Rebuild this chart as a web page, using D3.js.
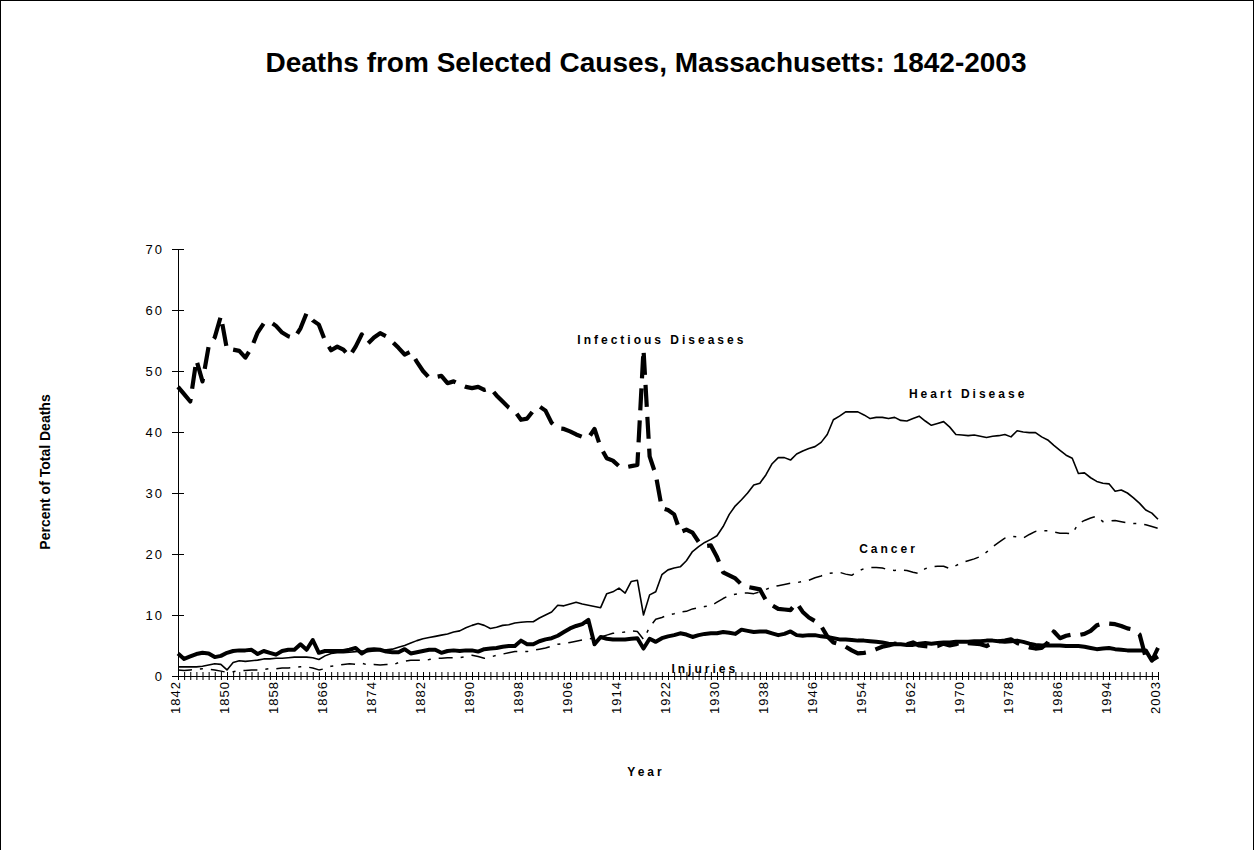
<!DOCTYPE html>
<html>
<head>
<meta charset="utf-8">
<script src="https://cdn.jsdelivr.net/npm/d3@7"></script>
<style>
  body { margin: 0; background: #fff; }
  text { font-family: "Liberation Sans", Arial, sans-serif; fill: #000; }
</style>
</head>
<body>
<div id="chart"></div>
<script>
// ==============================
// Data (percent of total deaths)
// ==============================
var years = [
  1842, 1843, 1844, 1845, 1846, 1847, 1848, 1849, 1850, 1851,
  1852, 1853, 1854, 1855, 1856, 1857, 1858, 1859, 1860, 1861,
  1862, 1863, 1864, 1865, 1866, 1867, 1868, 1869, 1870, 1871,
  1872, 1873, 1874, 1875, 1876, 1877, 1878, 1879, 1880, 1881,
  1882, 1883, 1884, 1885, 1886, 1887, 1888, 1889, 1890, 1891,
  1892, 1893, 1894, 1895, 1896, 1897, 1898, 1899, 1900, 1901,
  1902, 1903, 1904, 1905, 1906, 1907, 1908, 1909, 1910, 1911,
  1912, 1913, 1914, 1915, 1916, 1917, 1918, 1919, 1920, 1921,
  1922, 1923, 1924, 1925, 1926, 1927, 1928, 1929, 1930, 1931,
  1932, 1933, 1934, 1935, 1936, 1937, 1938, 1939, 1940, 1941,
  1942, 1943, 1944, 1945, 1946, 1947, 1948, 1949, 1950, 1951,
  1952, 1953, 1954, 1955, 1956, 1957, 1958, 1959, 1960, 1961,
  1962, 1963, 1964, 1965, 1966, 1967, 1968, 1969, 1970, 1971,
  1972, 1973, 1974, 1975, 1976, 1977, 1978, 1979, 1980, 1981,
  1982, 1983, 1984, 1985, 1986, 1987, 1988, 1989, 1990, 1991,
  1992, 1993, 1994, 1995, 1996, 1997, 1998, 1999,
  2001, 2002, 2003
];

var infectious = [
  47.4, 46.2, 45.0, 51.8, 48.3, 54.0, 55.5, 59.0, 53.5, 53.5,
  53.3, 52.2, 53.8, 56.3, 57.8, 58.1, 57.4, 56.3, 55.7, 55.4,
  57.0, 59.5, 58.3, 57.6, 55.0, 53.4, 54.0, 53.5, 52.4, 54.0,
  56.0, 54.5, 55.5, 56.2, 55.7, 54.8, 53.8, 52.7, 53.2, 51.5,
  50.0, 48.9, 49.0, 49.2, 48.0, 48.3, 47.8, 47.4, 47.2, 47.4,
  46.9, 47.2, 46.0, 45.0, 44.0, 43.4, 42.0, 42.2, 43.5, 44.2,
  43.5, 41.5, 40.6, 40.5, 40.1, 39.6, 39.2, 39.0, 40.5, 37.5,
  35.7, 35.3, 34.4, 34.2, 34.4, 34.6, 53.5, 36.0, 33.0, 27.5,
  27.2, 26.5, 23.6, 24.0, 23.5, 22.0, 21.3, 21.4, 19.5, 17.0,
  16.5, 16.0, 15.0, 14.6, 14.4, 14.2, 12.4, 11.6, 11.0, 10.9,
  10.8, 12.0, 10.5, 9.6, 9.0, 8.2, 6.5, 5.5, 5.2, 4.8,
  4.2, 3.7, 3.8, 4.0, 4.4, 4.8, 5.0, 5.3, 5.2, 5.2,
  5.5, 5.0, 4.9, 4.8, 4.9, 5.3, 5.0, 5.2, 5.6, 5.4,
  5.3, 5.2, 4.9, 5.4, 5.7, 5.8, 6.0, 5.4, 5.0, 4.7,
  4.5, 4.6, 5.5, 7.3, 6.2, 6.6, 6.8, 6.7, 6.9, 7.4,
  8.3, 8.6, 8.6, 8.5, 8.2, 7.8, 7.6, 6.8,
  3.0, 2.6, 3.2
];

var heart = [
  1.5, 1.5, 1.5, 1.5, 1.6, 1.8, 2.0, 1.9, 1.0, 2.2,
  2.5, 2.4, 2.5, 2.6, 2.8, 2.8, 2.9, 2.9, 3.0, 3.1,
  3.1, 3.1, 3.0, 2.7, 3.3, 3.7, 3.8, 3.8, 3.9, 4.0,
  4.1, 4.0, 4.1, 4.2, 4.3, 4.4, 4.7, 5.0, 5.4, 5.8,
  6.1, 6.3, 6.5, 6.7, 6.9, 7.2, 7.4, 7.9, 8.3, 8.6,
  8.3, 7.8, 8.0, 8.3, 8.4, 8.7, 8.8, 8.9, 8.9, 9.5,
  10.0, 10.5, 11.6, 11.5, 11.8, 12.1, 11.8, 11.6, 11.4, 11.2,
  13.5, 13.8, 14.4, 13.6, 15.5, 15.7, 10.0, 13.3, 13.8, 16.6,
  17.4, 17.7, 17.9, 18.9, 20.4, 21.2, 21.9, 22.4, 23.0, 24.5,
  26.5, 27.9, 28.9, 30.0, 31.3, 31.6, 33.0, 34.8, 35.8, 35.8,
  35.4, 36.4, 36.9, 37.3, 37.6, 38.3, 39.6, 42.0, 42.6, 43.3,
  43.3, 43.3, 42.8, 42.2, 42.4, 42.4, 42.2, 42.4, 41.9, 41.8,
  42.2, 42.6, 41.8, 41.1, 41.4, 41.7, 40.8, 39.6, 39.5, 39.4,
  39.5, 39.3, 39.1, 39.3, 39.4, 39.6, 39.2, 40.2, 40.0, 39.9,
  39.9, 39.2, 38.7, 37.8, 37.0, 36.2, 35.7, 33.2, 33.3, 32.5,
  31.9, 31.6, 31.5, 30.3, 30.5, 30.0, 29.2, 28.3,
  27.2, 26.7, 25.7
];

var cancer = [
  1.0, 0.9, 1.0, 1.1, 1.2, 1.1, 1.0, 0.8, 0.6, 0.7,
  0.9, 0.9, 1.0, 1.0, 1.1, 1.2, 1.2, 1.3, 1.3, 1.4,
  1.5, 1.5, 1.3, 1.0, 1.2, 1.6, 1.7, 1.9, 2.0, 1.9,
  2.1, 1.8, 1.9, 1.8, 1.9, 1.8, 2.2, 2.4, 2.6, 2.6,
  2.6, 2.7, 2.9, 2.9, 3.0, 3.0, 3.0, 3.2, 3.4, 3.2,
  2.9, 3.1, 3.4, 3.6, 3.8, 4.0, 4.0, 4.0, 4.2, 4.4,
  4.6, 4.9, 5.2, 5.3, 5.5, 5.7, 5.9, 6.1, 6.2, 6.4,
  6.7, 7.0, 7.1, 7.2, 7.4, 7.3, 6.0, 8.0, 9.3, 9.6,
  10.0, 10.2, 10.5, 10.6, 11.0, 11.2, 11.4, 11.5, 12.1, 12.7,
  13.2, 13.4, 13.6, 13.6, 13.5, 13.8, 14.2, 14.6, 14.8, 15.0,
  15.2, 15.3, 15.5, 15.7, 16.1, 16.4, 16.8, 16.9, 17.0, 16.7,
  16.5, 17.2, 17.6, 17.8, 17.8, 17.7, 17.4, 17.3, 17.4, 17.3,
  17.0, 16.8, 17.6, 17.9, 18.0, 18.0, 17.6, 18.1, 18.6, 18.9,
  19.2, 19.6, 20.3, 21.2, 21.9, 22.6, 22.9, 22.8, 22.6, 23.2,
  23.7, 23.8, 23.8, 23.6, 23.4, 23.4, 23.3, 25.0, 25.5, 25.9,
  26.2, 25.3, 25.4, 25.5, 25.3, 25.1, 25.0, 25.0,
  24.8, 24.5, 24.2
];

var injuries = [
  3.7, 2.8, 3.2, 3.6, 3.8, 3.7, 3.1, 3.3, 3.8, 4.1,
  4.2, 4.2, 4.3, 3.6, 4.1, 3.8, 3.5, 4.1, 4.3, 4.3,
  5.2, 4.3, 5.9, 3.8, 4.1, 4.1, 4.1, 4.1, 4.3, 4.6,
  3.7, 4.3, 4.4, 4.3, 4.0, 3.9, 3.9, 4.4, 3.7, 3.9,
  4.1, 4.3, 4.3, 3.8, 4.1, 4.2, 4.1, 4.2, 4.2, 4.0,
  4.4, 4.5, 4.6, 4.8, 4.9, 4.9, 5.8, 5.2, 5.2, 5.7,
  6.0, 6.2, 6.6, 7.2, 7.8, 8.2, 8.5, 9.2, 5.2, 6.4,
  6.1, 6.0, 6.0, 6.0, 6.1, 6.2, 4.5, 6.1, 5.6, 6.2,
  6.5, 6.7, 7.0, 6.8, 6.4, 6.7, 6.9, 7.0, 7.0, 7.2,
  7.1, 6.9, 7.6, 7.4, 7.2, 7.3, 7.3, 7.0, 6.7, 6.9,
  7.3, 6.7, 6.6, 6.7, 6.7, 6.5, 6.4, 6.2, 6.0, 6.0,
  5.9, 5.8, 5.8, 5.7, 5.6, 5.5, 5.3, 5.2, 5.2, 5.1,
  5.1, 5.3, 5.4, 5.3, 5.4, 5.5, 5.5, 5.6, 5.6, 5.6,
  5.7, 5.7, 5.8, 5.8, 5.7, 5.6, 5.7, 5.8, 5.6, 5.3,
  5.1, 5.0, 5.0, 5.0, 5.0, 4.9, 4.9, 4.9, 4.8, 4.6,
  4.4, 4.5, 4.6, 4.4, 4.3, 4.2, 4.2, 4.2,
  4.2, 2.5, 4.6
];

var yTicks = [0, 10, 20, 30, 40, 50, 60, 70];

// series labels placed on the plot
var seriesLabels = [
  { text: "Infectious Diseases", year: 1921, value: 54.4 },
  { text: "Heart Disease", year: 1971, value: 45.5 },
  { text: "Cancer", year: 1958, value: 20.2 },
  { text: "Injuries", year: 1928, value: 0.5 }
];

// ==============================
// Chart
// ==============================
var svgWidth = 1254;
var svgHeight = 850;

var svg = d3.select("#chart")
  .append("svg")
  .attr("width", svgWidth)
  .attr("height", svgHeight);

svg.append("rect")
  .attr("x", 0.5)
  .attr("y", 0.5)
  .attr("width", svgWidth - 1)
  .attr("height", svgHeight + 10)
  .attr("fill", "white")
  .attr("stroke", "black")
  .attr("stroke-width", 1);

var plot = { left: 178, right: 1158, top: 249, bottom: 676 };

var x = d3.scalePoint()
  .domain(years)
  .range([plot.left, plot.right]);

var y = d3.scaleLinear()
  .domain([0, 70])
  .range([plot.bottom, plot.top]);

// title
svg.append("text")
  .attr("x", 646)
  .attr("y", 72)
  .attr("text-anchor", "middle")
  .attr("font-size", "28px")
  .attr("font-weight", "bold")
  .text("Deaths from Selected Causes, Massachusetts: 1842-2003");

// y axis
var leftAxis = d3.axisLeft(y)
  .tickValues(yTicks)
  .tickSizeInner(6)
  .tickSizeOuter(0)
  .tickPadding(10)
  .tickFormat(d3.format("d"));

var yAxisG = svg.append("g")
  .attr("transform", `translate(${plot.left}, 0)`)
  .call(leftAxis);

yAxisG.select(".domain").attr("stroke", "black").attr("stroke-width", 1);
yAxisG.selectAll(".tick line")
  .attr("x1", -6)
  .attr("x2", 6)
  .attr("stroke", "black");
yAxisG.selectAll(".tick text")
  .attr("x", -14)
  .attr("font-family", "Liberation Sans, Arial, sans-serif")
  .attr("font-size", "13px")
  .attr("letter-spacing", "2px")
  .attr("fill", "black");

// x axis: tick on every year, label every 8th category
var bottomAxis = d3.axisBottom(x)
  .tickSizeOuter(0)
  .tickFormat("");

var xAxisG = svg.append("g")
  .attr("transform", `translate(0, ${plot.bottom})`)
  .call(bottomAxis);

xAxisG.select(".domain").attr("stroke", "black").attr("stroke-width", 1);
xAxisG.selectAll(".tick line")
  .attr("y1", -4)
  .attr("y2", 4)
  .attr("stroke", "black");

svg.append("g")
  .selectAll("text")
  .data(years.filter((d, i) => i % 8 === 0))
  .enter()
  .append("text")
  .attr("transform", d => `translate(${x(d) + 2}, 681) rotate(-90)`)
  .attr("text-anchor", "end")
  .attr("font-size", "13px")
  .attr("letter-spacing", "1px")
  .text(d => d);

// axis titles
svg.append("text")
  .attr("transform", "translate(50, 472) rotate(-90)")
  .attr("text-anchor", "middle")
  .attr("font-size", "14px")
  .attr("font-weight", "bold")
  .text("Percent of Total Deaths");

svg.append("text")
  .attr("x", 646)
  .attr("y", 776)
  .attr("text-anchor", "middle")
  .attr("font-size", "12px")
  .attr("font-weight", "bold")
  .attr("letter-spacing", "3px")
  .text("Year");

// lines
var line = d3.line()
  .x((d, i) => x(years[i]))
  .y(d => y(d));

var series = [
  { values: infectious, width: 4.2, dash: "22,10" },
  { values: heart, width: 1.6, dash: null },
  { values: cancer, width: 1.5, dash: "14,8,3,8" },
  { values: injuries, width: 4, dash: null }
];

svg.append("g")
  .selectAll("path")
  .data(series)
  .enter()
  .append("path")
  .attr("d", d => line(d.values))
  .attr("fill", "none")
  .attr("stroke", "black")
  .attr("stroke-width", d => d.width)
  .attr("stroke-dasharray", d => d.dash)
  .attr("stroke-linejoin", "round");

// series labels
svg.append("g")
  .selectAll("text")
  .data(seriesLabels)
  .enter()
  .append("text")
  .attr("x", d => x(d.year))
  .attr("y", d => y(d.value))
  .attr("text-anchor", "middle")
  .attr("font-size", "12px")
  .attr("font-weight", "bold")
  .attr("letter-spacing", "3px")
  .text(d => d.text);
</script>
</body>
</html>
